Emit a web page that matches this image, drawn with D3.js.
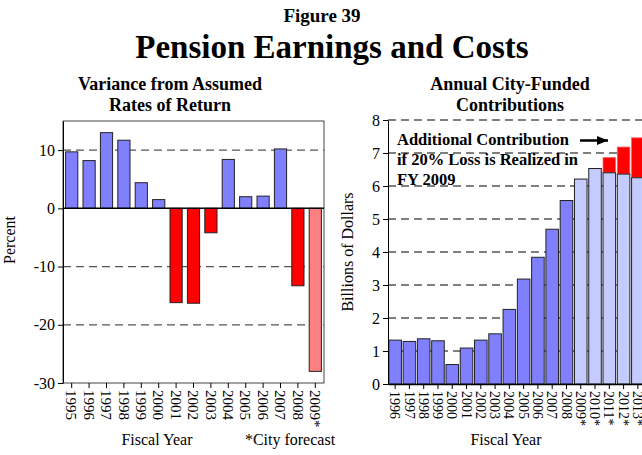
<!DOCTYPE html>
<html>
<head>
<meta charset="utf-8">
<script src="https://cdn.jsdelivr.net/npm/d3@7"></script>
<style>
  body { margin: 0; background: #fff; }
  svg { font-family: "Liberation Serif", "Times New Roman", serif; }
  .title { font-weight: bold; text-anchor: middle; }
  .tick text { font-size: 15px; font-family: "Liberation Serif", serif; }
</style>
</head>
<body>
<svg id="chart" width="642" height="455"></svg>
<script>
"use strict";

// left panel: variance from assumed rates of return (percent)
var varianceYears = ["1995", "1996", "1997", "1998", "1999", "2000", "2001", "2002",
  "2003", "2004", "2005", "2006", "2007", "2008", "2009*"];
var varianceValues = [9.7, 8.2, 13.0, 11.7, 4.4, 1.5, -16.2, -16.3, -4.2, 8.4, 2.0, 2.1, 10.2, -13.3, -28.0];
var varianceTicks = [10, 0, -10, -20, -30];

// right panel: annual city-funded contributions (billions)
var contribYears = ["1996", "1997", "1998", "1999", "2000", "2001", "2002", "2003", "2004",
  "2005", "2006", "2007", "2008", "2009*", "2010*", "2011*", "2012*", "2013*"];
var contribValues = [1.33, 1.29, 1.37, 1.31, 0.59, 1.09, 1.33, 1.52, 2.26, 3.18, 3.84,
  4.69, 5.56, 6.21, 6.53, 6.40, 6.36, 6.25];
var additionalValues = [0, 0, 0, 0, 0, 0, 0, 0, 0, 0, 0, 0, 0, 0, 0, 0.46, 0.82, 1.21];
var contribTicks = [0, 1, 2, 3, 4, 5, 6, 7, 8];

var svg = d3.select("#chart");
var plain = function(d) { return String(d); };

// titles
svg.append("text").attr("class", "title").attr("x", 322).attr("y", 22)
  .style("font-size", "19px").text("Figure 39");
svg.append("text").attr("class", "title").attr("x", 332).attr("y", 58)
  .style("font-size", "33px").text("Pension Earnings and Costs");
svg.append("text").attr("class", "title").attr("x", 170).attr("y", 90)
  .style("font-size", "18px").text("Variance from Assumed");
svg.append("text").attr("class", "title").attr("x", 170).attr("y", 111)
  .style("font-size", "18px").text("Rates of Return");
svg.append("text").attr("class", "title").attr("x", 510).attr("y", 90)
  .style("font-size", "18px").text("Annual City-Funded");
svg.append("text").attr("class", "title").attr("x", 510).attr("y", 111)
  .style("font-size", "18px").text("Contributions");

function rotateTicks(g) {
  g.selectAll(".tick text")
    .attr("transform", "rotate(90)")
    .attr("text-anchor", "start")
    .attr("x", 7)
    .attr("y", 0)
    .attr("dy", "0.35em");
}

// ---- left panel ----
var left = { l: 63, r: 324, t: 121, b: 383 };

var xL = d3.scaleBand().domain(varianceYears).range([left.l, left.r]).paddingInner(0.3).paddingOuter(0.15);
var yL = d3.scaleLinear().domain([-30, 15]).range([left.b, left.t]);

var gL = svg.append("g");

gL.selectAll(".grid").data([10, -10, -20]).enter().append("line")
  .attr("x1", left.l).attr("x2", left.r)
  .attr("y1", function(d) { return yL(d); }).attr("y2", function(d) { return yL(d); })
  .attr("stroke", "#555").attr("stroke-width", 1.2).attr("stroke-dasharray", "8,5");

// frame
gL.append("rect").attr("x", left.l).attr("y", left.t)
  .attr("width", left.r - left.l).attr("height", left.b - left.t)
  .attr("fill", "none").attr("stroke", "#444").attr("stroke-width", 1);

gL.selectAll(".bar").data(varianceValues).enter().append("rect")
  .attr("x", function(d, i) { return xL(varianceYears[i]); })
  .attr("width", xL.bandwidth())
  .attr("y", function(d) { return yL(Math.max(0, d)); })
  .attr("height", function(d) { return Math.abs(yL(d) - yL(0)); })
  .attr("fill", function(d, i) {
    if (varianceYears[i].indexOf("*") >= 0) return "#ff8080";
    return d >= 0 ? "#8080ff" : "#ff0000";
  })
  .attr("stroke", "#222").attr("stroke-width", 1);

gL.append("line").attr("x1", left.l).attr("x2", left.r)
  .attr("y1", yL(0)).attr("y2", yL(0)).attr("stroke", "#000").attr("stroke-width", 1.5);

gL.append("g").attr("transform", "translate(" + left.l + ",0)")
  .call(d3.axisLeft(yL).tickValues(varianceTicks).tickFormat(plain).tickSize(5).tickSizeOuter(0))
  .call(function(g) { g.select(".domain").attr("stroke", "#000"); })
  .call(function(g) { g.selectAll(".tick text").style("font-size", "16px"); });

gL.append("g").attr("transform", "translate(0," + left.b + ")")
  .call(d3.axisBottom(xL).tickSize(5).tickSizeOuter(0))
  .call(function(g) { g.select(".domain").remove(); })
  .call(rotateTicks);

svg.append("text").attr("transform", "translate(15,240) rotate(-90)")
  .attr("text-anchor", "middle").style("font-size", "16px").text("Percent");
svg.append("text").attr("x", 157).attr("y", 445).attr("text-anchor", "middle")
  .style("font-size", "16px").text("Fiscal Year");
svg.append("text").attr("x", 290).attr("y", 445).attr("text-anchor", "middle")
  .style("font-size", "16px").text("*City forecast");

// ---- right panel ----
var right = { l: 388, r: 645, t: 120, b: 384 };

var xR = d3.scaleBand().domain(contribYears).range([right.l, right.r]).paddingInner(0.12).paddingOuter(0.06);
var yR = d3.scaleLinear().domain([0, 8]).range([right.b, right.t]);

var rows = contribYears.map(function(y, i) {
  return { year: y, base: contribValues[i], extra: additionalValues[i] };
});

var gR = svg.append("g");

gR.selectAll(".grid").data(contribTicks.filter(function(d) { return d > 0; })).enter().append("line")
  .attr("x1", right.l).attr("x2", right.r)
  .attr("y1", function(d) { return yR(d); }).attr("y2", function(d) { return yR(d); })
  .attr("stroke", "#000").attr("stroke-width", 1.2).attr("stroke-dasharray", "8,5");

gR.selectAll(".add").data(rows.filter(function(d) { return d.extra > 0; })).enter().append("rect")
  .attr("x", function(d) { return xR(d.year); })
  .attr("width", xR.bandwidth())
  .attr("y", function(d) { return yR(d.base + d.extra); })
  .attr("height", function(d) { return yR(d.base) - yR(d.base + d.extra); })
  .attr("fill", "#ff0000").attr("stroke", "#ff6060").attr("stroke-width", 0.8);

gR.selectAll(".bar").data(rows).enter().append("rect")
  .attr("x", function(d) { return xR(d.year); })
  .attr("width", xR.bandwidth())
  .attr("y", function(d) { return yR(d.base); })
  .attr("height", function(d) { return yR(0) - yR(d.base); })
  .attr("fill", function(d) { return d.year.indexOf("*") >= 0 ? "#c3cbff" : "#8080ff"; })
  .attr("stroke", "#222").attr("stroke-width", 1);

gR.append("g").attr("transform", "translate(" + right.l + ",0)")
  .call(d3.axisLeft(yR).tickValues(contribTicks).tickFormat(plain).tickSize(5).tickSizeOuter(0))
  .call(function(g) { g.select(".domain").attr("stroke", "#000"); })
  .call(function(g) { g.selectAll(".tick text").style("font-size", "16px"); });

gR.append("g").attr("transform", "translate(0," + right.b + ")")
  .call(d3.axisBottom(xR).tickSize(5).tickSizeOuter(0))
  .call(function(g) { g.select(".domain").attr("stroke", "#000").attr("stroke-width", 1.5); })
  .call(rotateTicks)
  .call(function(g) { g.selectAll(".tick text").style("font-size", "14px"); });

svg.append("text").attr("transform", "translate(353,252) rotate(-90)")
  .attr("text-anchor", "middle").style("font-size", "16px").text("Billions of Dollars");
svg.append("text").attr("x", 506).attr("y", 445).attr("text-anchor", "middle")
  .style("font-size", "16px").text("Fiscal Year");

// annotation
var note = svg.append("text").attr("x", 397).attr("y", 145)
  .style("font-size", "16.5px").style("font-weight", "bold");
["Additional Contribution", "if 20% Loss is Realized in", "FY 2009"].forEach(function(s, i) {
  note.append("tspan").attr("x", 397).attr("dy", i === 0 ? 0 : 20).text(s);
});

svg.append("defs").append("marker").attr("id", "arrow")
  .attr("viewBox", "0 0 10 10").attr("refX", 10).attr("refY", 5)
  .attr("markerWidth", 11).attr("markerHeight", 9).attr("markerUnits", "userSpaceOnUse")
  .attr("orient", "auto").attr("preserveAspectRatio", "none")
  .append("path").attr("d", "M0,0 L10,5 L0,10 z").attr("fill", "#000");
svg.append("line").attr("x1", 580).attr("x2", 608).attr("y1", 140.5).attr("y2", 140.5)
  .attr("stroke", "#000").attr("stroke-width", 2.5).attr("marker-end", "url(#arrow)");
</script>
</body>
</html>
